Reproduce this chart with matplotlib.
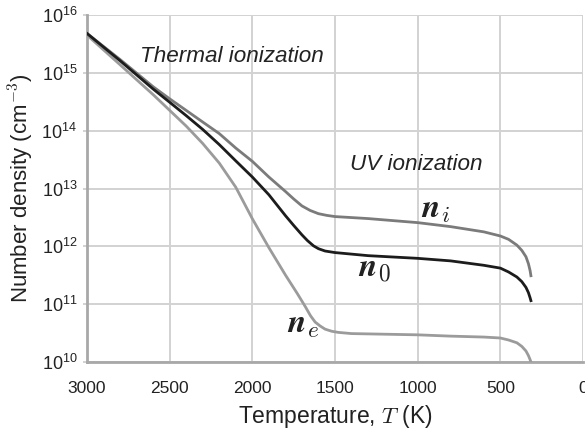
import numpy as np
import matplotlib
matplotlib.use("Agg")
import matplotlib.pyplot as plt

plt.rcParams["font.family"] = ["Liberation Sans", "DejaVu Sans"]
plt.rcParams["mathtext.fontset"] = "cm"

# Temperature (K) and number densities (cm^-3) for ions, neutrals and electrons
T_i = [3000, 2800, 2600, 2500, 2400, 2300, 2200, 2100, 2000, 1900, 1800, 1750, 1700,
       1650, 1600, 1550, 1500, 1300, 1000, 800, 600, 500, 450, 400, 370, 345, 330,
       320, 315]
n_i = [4.8e15, 1.7e15, 5.75e14, 3.55e14, 2.24e14, 1.41e14, 8.9e13, 5.0e13, 2.95e13,
       1.58e13, 8.9e12, 6.6e12, 5.0e12, 4.17e12, 3.67e12, 3.43e12, 3.27e12, 3.02e12,
       2.57e12, 2.19e12, 1.78e12, 1.51e12, 1.32e12, 1.05e12, 8.5e11, 6.6e11,
       5.0e11, 3.8e11, 3.1e11]

T_0 = [3000, 2800, 2600, 2500, 2400, 2300, 2200, 2100, 2000, 1900, 1800, 1750, 1700,
       1667, 1630, 1600, 1560, 1500, 1300, 1000, 800, 600, 500, 450, 400, 370, 345,
       330, 320, 315]
n_0 = [4.8e15, 1.62e15, 5.25e14, 3.1e14, 1.82e14, 1.05e14, 5.75e13, 3.0e13, 1.58e13,
       7.8e12, 3.4e12, 2.3e12, 1.58e12, 1.26e12, 1.02e12, 9.1e11, 8.3e11, 7.8e11,
       6.9e11, 6.2e11, 5.6e11, 4.7e11, 4.2e11, 3.6e11, 2.95e11, 2.45e11, 1.95e11,
       1.58e11, 1.29e11, 1.15e11]

T_e = [3000, 2800, 2600, 2400, 2300, 2200, 2100, 2000, 1900, 1800, 1727, 1680, 1648,
       1620, 1590, 1560, 1520, 1480, 1400, 1000, 800, 600, 500, 450, 400, 370, 345,
       330, 320, 315]
n_e = [4.5e15, 1.38e15, 4.2e14, 1.2e14, 6.0e13, 2.75e13, 1.05e13, 3.0e12, 9.5e11,
       3.2e11, 1.51e11, 9.1e10, 6.3e10, 4.9e10, 4.2e10, 3.7e10, 3.4e10, 3.25e10,
       3.1e10, 2.95e10, 2.8e10, 2.7e10, 2.6e10, 2.4e10, 2.15e10, 1.86e10, 1.55e10,
       1.29e10, 1.1e10, 1.0e10]

x_ticks = [3000, 2500, 2000, 1500, 1000, 500, 0]
y_exponents = [10, 11, 12, 13, 14, 15, 16]

fig = plt.figure(figsize=(5.85, 4.36), dpi=100)
ax = fig.add_axes([87 / 585, 1 - 362 / 436, 496 / 585, 347 / 436])

ax.plot(T_i, n_i, color="#7b7b7b", lw=2.0, solid_joinstyle="round", zorder=3)
ax.plot(T_0, n_0, color="#1c1c1c", lw=2.0, solid_joinstyle="round", zorder=4)
ax.plot(T_e, n_e, color="#9b9b9b", lw=2.0, solid_joinstyle="round", zorder=3)

ax.set_yscale("log")
ax.set_xlim(3000, 0)
ax.set_ylim(1e10, 1e16)

ax.set_xticks(x_ticks)
ax.set_xticklabels([str(t) for t in x_ticks])
ax.set_yticks([10.0 ** e for e in y_exponents])
ax.set_yticklabels([r"$\mathregular{10^{%d}}$" % e for e in y_exponents])
ax.minorticks_off()

ax.grid(True, color="#d2d2d2", lw=1.4, zorder=0)
for side in ("top", "right"):
    ax.spines[side].set_visible(False)
for side in ("left", "bottom"):
    ax.spines[side].set_color("#a8a8a8")
    ax.spines[side].set_linewidth(2.0)

ax.tick_params(axis="x", length=0, pad=14, labelsize=12.5, labelcolor="#222222")
ax.tick_params(axis="y", length=3, width=1.4, color="#d2d2d2", pad=4,
               labelsize=13, labelcolor="#222222")

ax.set_xlabel(r"Temperature, $T$ (K)", fontsize=16.5, color="#222222", labelpad=5)
ax.set_ylabel(r"Number density (cm$^{-3}$)", fontsize=16, color="#222222", labelpad=4)

ax.text(2121, 1.95e15, "Thermal ionization", fontsize=16.2, style="italic",
        color="#222222", ha="center", va="center")
ax.text(1006, 2.6e13, "UV ionization", fontsize=16.2, style="italic",
        color="#222222", ha="center", va="center")

ax.text(890, 4.4e12, r"$\boldsymbol{n}_i$", fontsize=24, color="#222222",
        ha="center", va="center")
ax.text(1260, 4.1e11, r"$\boldsymbol{n}_0$", fontsize=24, color="#222222",
        ha="center", va="center")
ax.text(1690, 4.5e10, r"$\boldsymbol{n}_e$", fontsize=24, color="#222222",
        ha="center", va="center")

fig.savefig("out.png", dpi=100)
